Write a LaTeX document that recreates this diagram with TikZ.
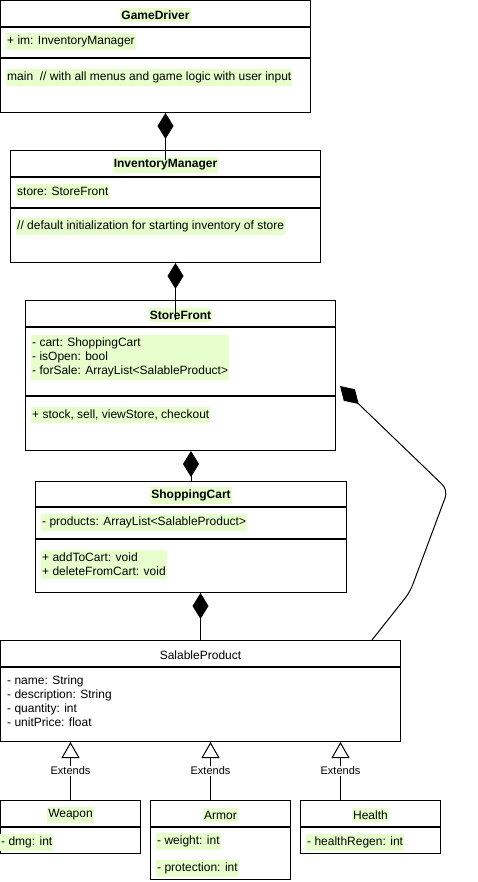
\documentclass[tikz,border=0pt]{standalone}
\usepackage{fontspec}
\setmainfont{Liberation Sans}
\usetikzlibrary{arrows.meta}
\definecolor{memberbg}{RGB}{230,255,204}
\tikzset{
  class part/.style={draw, line width=1pt, anchor=north west, inner sep=0pt},
  class title/.style={fill=memberbg, inner xsep=1pt, inner ysep=3pt, yshift=-1.5pt},
  bold title/.style={class title, font=\fontsize{12}{14}\selectfont\bfseries},
  member/.style={fill=memberbg, anchor=north west, align=left, inner xsep=1pt, inner ysep=3pt},
  composition/.style={{Diamond[length=26pt,width=16pt]}-, line width=1pt},
  extends/.style={-{Triangle[open,fill=white,length=16pt,width=18pt]}, line width=1pt},
  extends label/.style={fill=white, inner sep=1pt, font=\fontsize{11}{13}\selectfont},
}

\begin{document}
\begin{tikzpicture}[x=1pt, y=-1pt, font=\fontsize{12}{14}\selectfont]
\useasboundingbox (0,0) rectangle (477,882);

\node[class part, minimum width=310pt, minimum height=26pt] (gd-head) at (0,0) {};
\node[class part, minimum width=310pt, minimum height=30pt] (gd-attr) at (gd-head.south west) {};
\node[class part, minimum width=310pt, minimum height=54pt] (gd-ops) at (gd-attr.south west) {};
\node[bold title] (gd-name) at (gd-head.center) {GameDriver};
\node[member] (gd-im) at ([shift={(6,6)}]gd-attr.north west) {+ im: InventoryManager};
\node[member] (gd-main) at ([shift={(6,11)}]gd-ops.north west) {main\ \ // with all menus and game logic with user input};

\node[class part, minimum width=310pt, minimum height=26pt] (im-head) at (10,150) {};
\node[class part, minimum width=310pt, minimum height=30pt] (im-attr) at (im-head.south west) {};
\node[class part, minimum width=310pt, minimum height=54pt] (im-ops) at (im-attr.south west) {};
\node[bold title] (im-name) at (im-head.center) {InventoryManager};
\node[member] (im-store) at ([shift={(6,7)}]im-attr.north west) {store: StoreFront};
\node[member] (im-init) at ([shift={(6,10)}]im-ops.north west) {// default initialization for starting inventory of store};

\node[class part, minimum width=310pt, minimum height=26pt] (sf-head) at (25,300) {};
\node[class part, minimum width=310pt, minimum height=68pt] (sf-attr) at (sf-head.south west) {};
\node[class part, minimum width=310pt, minimum height=54pt] (sf-ops) at (sf-attr.south west) {};
\node[bold title] (sf-name) at (sf-head.center) {StoreFront};
\node[member] (sf-fields) at ([shift={(6,8)}]sf-attr.north west)
  {- cart: ShoppingCart\\- isOpen: bool\\- forSale: ArrayList<SalableProduct>};
\node[member] (sf-methods) at ([shift={(6,11)}]sf-ops.north west) {+ stock, sell, viewStore, checkout};

\node[class part, minimum width=311pt, minimum height=25pt] (sc-head) at (35,481) {};
\node[class part, minimum width=311pt, minimum height=31pt] (sc-attr) at (sc-head.south west) {};
\node[class part, minimum width=311pt, minimum height=53pt] (sc-ops) at (sc-attr.south west) {};
\node[bold title] (sc-name) at (sc-head.center) {ShoppingCart};
\node[member] (sc-products) at ([shift={(6,7)}]sc-attr.north west) {- products: ArrayList<SalableProduct>};
\node[member] (sc-methods) at ([shift={(6,11)}]sc-ops.north west) {+ addToCart: void\\+ deleteFromCart: void};

\node[class part, minimum width=400pt, minimum height=26pt] (sp-head) at (0,640) {};
\node[class part, minimum width=400pt, minimum height=74pt] (sp-attr) at (sp-head.south west) {};
\node[class title, fill=none] (sp-name) at (sp-head.center) {SalableProduct};
\node[member, fill=none] (sp-fields) at ([shift={(6,6)}]sp-attr.north west)
  {- name: String\\- description: String\\- quantity: int\\- unitPrice: float};

\node[class part, minimum width=140pt, minimum height=26pt] (wp-head) at (0,800) {};
\node[class part, minimum width=140pt, minimum height=26pt] (wp-attr) at (wp-head.south west) {};
\node[class title] (wp-name) at (wp-head.center) {Weapon};
\node[member] (wp-dmg) at ([shift={(0,7)}]wp-attr.north west) {- dmg: int};

\node[class part, minimum width=140pt, minimum height=26pt] (ar-head) at (150,800) {};
\node[class part, minimum width=140pt, minimum height=52pt] (ar-attr) at (ar-head.south west) {};
\node[class title] (ar-name) at (ar-head.center) {Armor};
\node[member] (ar-weight) at ([shift={(6,6)}]ar-attr.north west) {- weight: int};
\node[member] (ar-protection) at ([shift={(6,33)}]ar-attr.north west) {- protection: int};

\node[class part, minimum width=140pt, minimum height=26pt] (hl-head) at (300,800) {};
\node[class part, minimum width=140pt, minimum height=26pt] (hl-attr) at (hl-head.south west) {};
\node[class title] (hl-name) at (hl-head.center) {Health};
\node[member] (hl-regen) at ([shift={(6,7)}]hl-attr.north west) {- healthRegen: int};

\draw[composition] (gd-ops.south -| im-head.north) -- ([yshift=-10pt]im-head.north);
\draw[composition] ([xshift=10pt]im-ops.south) -- ([shift={(-5,20)}]sf-head.north);
\draw[composition] (sf-ops.south -| sc-head.north) -- (sc-head.north);
\draw[composition] (sc-ops.south -| sp-head.north) -- (sp-head.north);
\draw[composition, rounded corners=8pt] ([shift={(4,-10)}]sf-attr.south east)
  -- (448,490) -- (410,592) -- ([xshift=-29pt]sp-head.north east);

\foreach \child/\dx in {wp/0, ar/-10, hl/-30} {
  \coordinate (\child-up) at ([xshift=\dx pt]\child-head.north);
  \draw[extends] (\child-up) -- (\child-up |- sp-attr.south)
    node[midway, extends label] {Extends};
}
\end{tikzpicture}
\end{document}
